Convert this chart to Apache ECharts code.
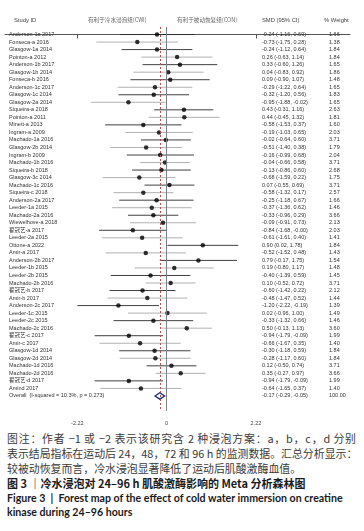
<!DOCTYPE html>
<html>
<head>
<meta charset="utf-8">
<script src="https://cdn.jsdelivr.net/npm/echarts@6/dist/echarts.min.js"></script>
<style>
  body { margin: 0; background: #fff; width: 364px; height: 531px; overflow: hidden; position: relative; }
  #chart { position: absolute; left: 0; top: 0; width: 364px; height: 430px; }
  .cap { position: absolute; left: 7px; width: 349px; white-space: nowrap; line-height: 15px; }
  .note { font-family: "Noto Sans CJK SC", sans-serif; font-size: 10.9px; color: #3a3a3a; }
  .just { text-align: justify; text-align-last: justify; }
  .title { font-family: "Noto Sans CJK SC", sans-serif; font-size: 11px; font-weight: bold; color: #1a1a1a; }
  .en { font-family: Lato, "Noto Sans", sans-serif; font-size: 10.6px; font-weight: bold; color: #1a1a1a; }
</style>
</head>
<body>
<div id="chart"></div>
<div class="cap note just" style="top:431px">图注：作者 −1 或 −2 表示该研究含 2 种浸泡方案：a，b，c，d 分别</div>
<div class="cap note just" style="top:446px">表示结局指标在运动后 24，48，72 和 96 h 的监测数据。汇总分析显示：</div>
<div class="cap note" style="top:461px">较被动恢复而言，冷水浸泡显著降低了运动后肌酸激酶血值。</div>
<div class="cap title" style="top:476px">图 3 ｜冷水浸泡对 24–96 h 肌酸激酶影响的 Meta 分析森林图</div>
<div class="cap en" style="top:491px">Figure 3 &nbsp;|&nbsp; Forest map of the effect of cold water immersion on creatine</div>
<div class="cap en" style="top:505px">kinase during 24–96 hours</div>
<script>
// study rows, top to bottom
const studies = [
  'Anderson-1a 2017', 'Fonseca-a 2016', 'Glasgow-1a 2014', 'Pointon-a 2012', 'Anderson-1b 2017',
  'Glasgow-1b 2014', 'Fonseca-b 2016', 'Anderson-1c 2017', 'Glasgow-1c 2014', 'Glasgow-2a 2014',
  'Siqueira-a 2018', 'Pointon-a 2011', 'Minett-a 2013', 'Ingram-a 2009', 'Machado-1a 2016',
  'Glasgow-2b 2014', 'Ingram-b 2009', 'Machado-1b 2016', 'Siqueira-b 2018', 'Glasgow-3c 2014',
  'Machado-1c 2016', 'Siqueira-c 2018', 'Anderson-2a 2017', 'Leeder-1a 2015', 'Machado-2a 2016',
  'Wiewelhove-a 2018', '翟冠艺-a 2017', 'Leeder-2a 2015', 'Ottone-a 2022', 'Amir-a 2017',
  'Anderson-2b 2017', 'Leeder-1b 2015', 'Leeder-2b 2015', 'Machado-2b 2016', '翟冠艺-b 2017',
  'Amir-b 2017', 'Anderson-2c 2017', 'Leeder-1c 2015', 'Leeder-2c 2015', 'Machado-2c 2016',
  '翟冠艺-c 2017', 'Amir-c 2017', 'Glasgow-1d 2014', 'Glasgow-2d 2014', 'Machado-1d 2016',
  'Machado-2d 2016', '翟冠艺-d 2017', 'Amind 2017'
];
const smd = [
  -0.24, -0.73, -0.24, 0.26, 0.33, 0.04, 0.09, -0.29, -0.32, -0.95,
  0.43, 0.44, -0.58, -0.19, -0.02, -0.51, -0.16, -0.04, -0.13, -0.68,
  0.07, -0.58, -0.25, -0.37, -0.33, -0.09, -0.84, -0.61, 0.90, -0.52,
  0.79, 0.19, -0.40, 0.10, -0.60, -0.48, -1.20, 0.02, -0.33, 0.50,
  -0.94, -0.66, -0.30, -0.28, 0.12, 0.35, -0.94, -0.64
];
const lower = [
  -1.16, -1.75, -1.12, -0.63, -0.60, -0.83, -0.90, -1.22, -1.20, -1.88,
  -0.31, -0.45, -1.53, -1.03, -0.64, -1.40, -0.99, -0.66, -0.86, -1.59,
  -0.55, -1.32, -1.18, -1.36, -0.96, -0.91, -1.68, -1.61, 0.02, -1.52,
  -0.17, -0.80, -1.39, -0.52, -1.42, -1.47, -2.22, -0.96, -1.32, -0.13,
  -1.79, -1.67, -1.18, -1.17, -0.50, -0.27, -1.79, -1.65
];
const upper = [
  0.69, 0.28, 0.64, 1.14, 1.26, 0.92, 1.07, 0.64, 0.56, -0.02,
  1.16, 1.32, 0.37, 0.65, 0.60, 0.38, 0.68, 0.58, 0.60, 0.22,
  0.69, 0.17, 0.67, 0.62, 0.29, 0.73, -0.004, 0.40, 1.78, 0.48,
  1.75, 1.17, 0.59, 0.72, 0.22, 0.52, -0.19, 1.00, 0.66, 1.13,
  -0.09, 0.35, 0.59, 0.60, 0.74, 0.97, -0.09, 0.37
];
const weights = [
  1.66, 1.38, 1.84, 1.84, 1.65, 1.86, 1.48, 1.65, 1.83, 1.65,
  2.63, 1.81, 1.60, 2.03, 3.71, 1.79, 2.04, 3.71, 2.68, 1.75,
  3.71, 2.57, 1.66, 1.46, 3.66, 2.13, 2.03, 1.41, 1.84, 1.43,
  1.54, 1.48, 1.45, 3.71, 2.12, 1.44, 1.39, 1.49, 1.46, 3.60,
  1.99, 1.40, 1.84, 1.84, 3.71, 3.66, 1.99, 1.40
];
const overallLabel = 'Overall  (I-squared = 10.3%, p = 0.273)';
const overallSmd = -0.17;
const overallLower = -0.29;
const overallUpper = -0.05;
const overallWeight = 100.00;
const tickValues = [-2.22, 0, 2.22];

const rowFont = '5.5px "Liberation Sans", "Noto Sans CJK SC", sans-serif';
const ciText = (m, lo, hi) => `${m.toFixed(2)} (${lo.toFixed(2)}, ${hi.toFixed(2)})`;
const overallRow = studies.length;

const chart = echarts.init(document.getElementById('chart'), null, { renderer: 'canvas' });

const option = {
  animation: false,
  grid: { left: 5, right: 14, top: 27, height: 384 },
  xAxis: {
    type: 'value',
    min: -4.02,
    max: 4.56,
    axisLine: { show: true, lineStyle: { color: '#555', width: 1 } },
    axisTick: { show: true, customValues: tickValues, length: 4, lineStyle: { color: '#555' } },
    axisLabel: {
      customValues: tickValues,
      margin: 9,
      fontSize: 5.5,
      color: '#444',
      fontFamily: 'Liberation Sans',
      formatter: v => String(v)
    },
    splitLine: { show: false }
  },
  yAxis: { type: 'value', inverse: true, min: -1, max: 50, show: false },
  graphic: [
    { type: 'text', left: 14, top: 17, style: { text: 'Study ID', font: '5.8px "Liberation Sans"', fill: '#444' } },
    { type: 'text', left: 88, top: 17, style: { text: '有利于冷水浸泡组(CWI)', font: '5.6px "Noto Sans CJK SC"', fill: '#666' } },
    { type: 'text', left: 177, top: 17, style: { text: '有利于被动恢复组(CON)', font: '5.6px "Noto Sans CJK SC"', fill: '#666' } },
    { type: 'text', left: 262, top: 17, style: { text: 'SMD (95% CI)', font: '5.8px "Liberation Sans"', fill: '#444' } },
    { type: 'text', left: 324, top: 17, style: { text: '% Weight', font: '5.8px "Liberation Sans"', fill: '#444' } }
  ],
  series: [
    {
      name: 'ci',
      type: 'custom',
      silent: true,
      data: studies.map((s, i) => [lower[i], upper[i], i]),
      renderItem: (params, api) => {
        const i = api.value(2);
        const a = api.coord([api.value(0), i]);
        const b = api.coord([api.value(1), i]);
        return {
          type: 'line',
          shape: { x1: a[0], y1: a[1], x2: b[0], y2: b[1] },
          style: { stroke: i % 2 === 0 ? '#2a2a2a' : '#a8a8a8', lineWidth: 0.9 }
        };
      },
      markLine: {
        silent: true,
        symbol: 'none',
        label: { show: false },
        data: [
          { xAxis: 0, lineStyle: { color: '#808080', width: 1, type: 'solid' } },
          { xAxis: overallSmd, lineStyle: { color: '#b5504a', width: 1, type: [2, 2] } }
        ]
      },
      z: 2
    },
    {
      name: 'smd',
      type: 'scatter',
      silent: true,
      symbol: 'circle',
      symbolSize: 4.5,
      itemStyle: { color: '#000' },
      data: smd.map((v, i) => [v, i]),
      z: 3
    },
    {
      name: 'overall',
      type: 'custom',
      silent: true,
      data: [[overallLower, overallSmd, overallUpper, overallRow]],
      renderItem: (params, api) => {
        const r = api.value(3);
        const l = api.coord([api.value(0), r]);
        const t = api.coord([api.value(1), r - 0.42]);
        const rr = api.coord([api.value(2), r]);
        const bt = api.coord([api.value(1), r + 0.42]);
        return {
          type: 'polygon',
          shape: { points: [l, t, rr, bt] },
          style: { fill: '#fff', stroke: '#1c2a80', lineWidth: 1.3 }
        };
      },
      z: 4
    },
    {
      name: 'labels',
      type: 'custom',
      silent: true,
      data: studies.map((s, i) => [i]).concat([[overallRow]]),
      renderItem: (params, api) => {
        const i = api.value(0);
        const y = api.coord([0, i])[1];
        const isOverall = i === overallRow;
        const name = isOverall ? overallLabel : studies[i];
        const ci = isOverall ? ciText(overallSmd, overallLower, overallUpper) : ciText(smd[i], lower[i], upper[i]);
        const w = (isOverall ? overallWeight : weights[i]).toFixed(2);
        const txt = (x, text) => ({
          type: 'text',
          style: { x, y, text, font: rowFont, fill: '#333', textVerticalAlign: 'middle', verticalAlign: 'middle' }
        });
        return { type: 'group', children: [txt(9, name), txt(262, ci), txt(329, w)] };
      },
      z: 5
    }
  ]
};

chart.setOption(option);
</script>
</body>
</html>
